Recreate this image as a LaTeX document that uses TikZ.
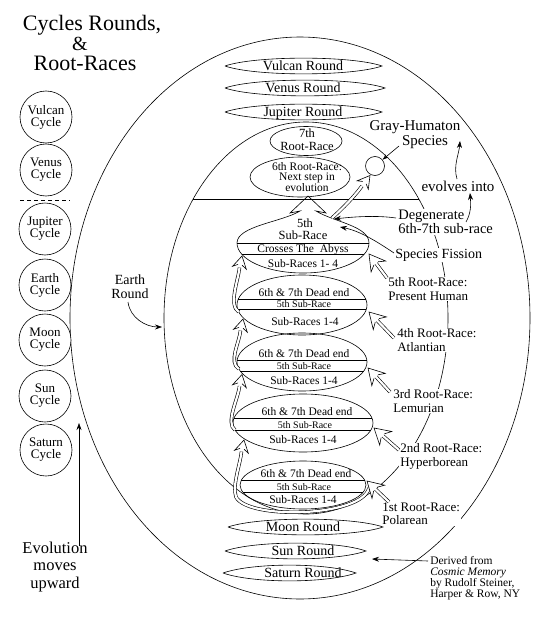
\documentclass[tikz,border=0pt]{standalone}
\usepackage{fontspec}
\setmainfont{Liberation Serif}
\usetikzlibrary{arrows.meta,calc,shapes.geometric}
\newcommand\myfs[2]{\fontsize{#1}{#2}\selectfont}
\newcommand\hhd[3]{\path let \p1=($(#1)-(#2)$), \n1={atan2(\y1,\x1)} in pic[rotate=\n1,scale=#3] at (#1) {hhead};}
\newcommand\lensn[5]{\draw (#2,#4) .. controls +(30,-10.5) and +(-30,-10.5) .. (#3,#4) .. controls +(-30,10.5) and +(30,10.5) .. (#2,#4);
  \node[rnd] (#1) at (303,#4+4.8) {#5};}
\tikzset{
  cyc/.style={circle, draw, fill=white, minimum size=52pt, inner sep=0pt, align=center, font=\myfs{13}{12}},
  ell/.style={ellipse, draw, inner sep=0pt, outer sep=0pt},
  lbl/.style={fill=white, inner sep=1pt, align=left, anchor=west},
  blk/.style={-{Stealth[length=7pt,width=5pt]}},
  dbl/.style={double=white, double distance=2.2pt},
  hhead/.pic={\draw[fill=white, line join=miter] (-9,2) -- (-12,7) -- (0,0) -- (-12,-7) -- (-9,-2);},
  rnd/.style={font=\myfs{14}{14}, inner sep=0pt, anchor=base},
  t12/.style={font=\myfs{11.5}{11}, anchor=base, inner sep=0pt},
  t10/.style={font=\myfs{10}{10}, anchor=base, inner sep=0pt},
  ttl/.style={font=\myfs{22}{24}, anchor=base, inner sep=0pt},
}
\begin{document}
\begin{tikzpicture}[x=1pt,y=-1pt,line width=0.6pt]
\useasboundingbox (0,0) rectangle (546,623);

% title
\node[ttl] (ttl1) at (92,31) {Cycles Rounds,};
\node[ttl, font=\myfs{20}{22}] (ttl2) at (80,51) {\&};
\node[ttl] (ttl3) at (85,71) {Root-Races};

% big ellipses
\node[ell, minimum width=460pt, minimum height=562pt] (outer) at (300,318) {};
\node[ell, minimum width=284pt, minimum height=392pt] (earthR) at (306,318) {};
\coordinate (hzL) at (193.2,199); \coordinate (hzR) at (418.8,199);
\draw (hzL) -- (hzR);

% cycles
\node[cyc] (vulC) at (46,117) {Vulcan\\Cycle};
\node[cyc] (venC) at (46,170) {Venus\\Cycle};
\coordinate (dashA) at (20,200.5); \coordinate (dashB) at (70,200.5);
\draw[dash pattern=on 4pt off 3pt] (dashA) -- (dashB);
\node[cyc] (jupC) at (45,229) {Jupiter\\Cycle};
\node[cyc] (earC) at (45,285) {Earth\\Cycle};
\node[cyc] (mooC) at (45,340) {Moon\\Cycle};
\node[cyc] (sunC) at (45,396) {Sun\\Cycle};
\node[cyc] (satC) at (46,450) {Saturn\\Cycle};

\node[font=\myfs{16.5}{17.5}, align=center, inner sep=0pt] (evo) at (55,567) {Evolution\\moves\\upward};
\coordinate (evS) at (79,546); \coordinate (evT) at (79,423);
\draw[blk] (evS) -- (evT);

\node[font=\myfs{14}{14}, align=center, inner sep=0pt] (erl) at (130,287) {Earth\\Round};
\coordinate (erS) at (128,302); \coordinate (erT) at (162,327);
\draw[blk] (erS) .. controls (130,318) and (146,327) .. (erT);

% rounds
\lensn{vulR}{225}{382}{66}{Vulcan Round}
\lensn{venR}{225}{385}{88}{Venus Round}
\lensn{jupR}{225}{382}{112}{Jupiter Round}
\lensn{moonR}{228}{383}{527}{Moon Round}
\lensn{sunR}{225}{366}{551}{Sun Round}
\lensn{satR}{223}{356}{573}{Saturn Round}

% 7th and 6th root-races
\node[ell, minimum width=72pt, minimum height=29pt] (r7) at (306,141) {};
\node[font=\myfs{12.5}{12.5}, align=center, inner sep=0pt] (r7t) at (307,139.5) {7th\\Root-Race};
\node[ell, minimum width=100pt, minimum height=40pt] (r6) at (300,177) {};
\node[font=\myfs{11.5}{10.8}, align=center, inner sep=0pt] (r6t) at (307,177) {6th Root-Race:\\Next step in\\evolution};

% 5th root-race
\coordinate (f5L) at (237,243); \coordinate (f5R) at (369,243); \coordinate (f5tip) at (308,196);
\draw[line join=miter] (f5L) .. controls (237,226) and (282,222) .. (300,211) -- (290,213) -- (f5tip) -- (326,213) -- (316,211)
  .. controls (334,222) and (369,226) .. (f5R) .. controls (369,259.6) and (339.5,273) .. (303,273)
  .. controls (266.5,273) and (237,259.6) .. (f5L) -- cycle;
\draw (f5L) -- (f5R);
\draw (241.6,254) -- (364.4,254);
\node[font=\myfs{12.5}{12}, anchor=base, inner sep=0pt] (s5a) at (305,227) {5th};
\node[font=\myfs{12.5}{12}, anchor=base, inner sep=0pt] (s5b) at (303,239) {Sub-Race};
\node[t12] (s5c) at (303,252) {Crosses The~~Abyss};
\node[t12] (s5d) at (303,267.5) {Sub-Races 1- 4};

% 4th
\node[ell, minimum width=130pt, minimum height=60pt] (r4) at (302,305) {};
\draw (238.3,299) -- (365.7,299); \draw (237.6,309) -- (366.4,309);
\node[t12] (r4a) at (304,296) {6th \& 7th Dead end};
\node[t10] (r4b) at (304,307.5) {5th Sub-Race};
\node[t12] (r4c) at (305,325) {Sub-Races 1-4};
% 3rd
\node[ell, minimum width=130pt, minimum height=58pt] (r3) at (302,362) {};
\draw (237.2,360) -- (366.8,360); \draw (240.2,371) -- (363.8,371);
\node[t12] (r3a) at (304,357.5) {6th \& 7th Dead end};
\node[t10] (r3b) at (304,369.5) {5th Sub-Race};
\node[t12] (r3c) at (304,384) {Sub-Races 1-4};
% 2nd
\node[ell, minimum width=140pt, minimum height=58pt] (r2) at (303,423) {};
\draw (234,418) -- (372,418); \draw (235.1,430) -- (370.9,430);
\node[t12] (r2a) at (307,415.5) {6th \& 7th Dead end};
\node[t10] (r2b) at (305,428.5) {5th Sub-Race};
\node[t12] (r2c) at (303,443.5) {Sub-Races 1-4};
% 1st
\node[ell, minimum width=126pt, minimum height=48pt] (r1) at (303,485) {};
\draw (241.4,480) -- (364.6,480); \draw (242.7,492) -- (363.3,492);
\node[t12] (r1a) at (306,477.5) {6th \& 7th Dead end};
\node[t10] (r1b) at (304,490) {5th Sub-Race};
\node[t12] (r1c) at (303,503.5) {Sub-Races 1-4};

% Gray-Humaton
\node[circle, draw, minimum size=19pt, inner sep=0pt] (ghc) at (375,166) {};
\node[font=\myfs{15}{15}, anchor=base, inner sep=0.5pt] (gh1) at (415,131) {Gray-Humaton};
\node[font=\myfs{15}{15}, anchor=base, inner sep=0.5pt] (gh2) at (425,145.5) {Species};
\node[font=\myfs{15}{15}, anchor=base, inner sep=0.5pt] (evi) at (458,191.5) {evolves into};

% right labels
\node[lbl, font=\myfs{14.5}{14}] (deg) at (397,222) {Degenerate\\6th-7th sub-race};
\node[lbl, font=\myfs{14}{14}] (sf) at (394,255) {Species Fission};
\node[lbl, font=\myfs{13}{13.5}] (rl5) at (387,289) {5th Root-Race:\\Present Human};
\node[lbl, font=\myfs{13}{13.5}] (rl4) at (396,340) {4th Root-Race:\\Atlantian};
\node[lbl, font=\myfs{13}{13.5}] (rl3) at (392,401) {3rd Root-Race:\\Lemurian};
\node[lbl, font=\myfs{13}{13.5}] (rl2) at (399,456.5) {2nd Root-Race:\\Hyperborean};
\node[lbl, font=\myfs{13}{13.5}] (rl1) at (381,514) {1st Root-Race:\\Polarean};
\node[lbl, font=\myfs{11.5}{11}] (drv) at (429,578.5) {Derived from\\\textit{Cosmic Memory}\\by Rudolf Steiner,\\Harper \& Row, NY};

% black arrows
\coordinate (ghS) at (399,146);
\draw[-{Stealth[length=6pt,width=4pt]}] (ghS) -- (ghc);
\coordinate (eA1) at (457,179); \coordinate (eA2) at (460,141);
\draw[blk] (eA1) .. controls (453,166) and (459,154) .. (eA2);
\coordinate (eB1) at (466,222); \coordinate (eB2) at (470,193);
\draw[blk] (eB1) .. controls (471,213) and (471,205) .. (eB2);
\coordinate (dgS) at (396,218); \coordinate (dgT) at (334,219);
\draw[blk] (dgS) .. controls (375,215) and (352,217) .. (dgT);
\coordinate (sfS) at (394,253); \coordinate (sfT) at (340,227);
\draw[blk] (sfS) .. controls (376,241) and (360,231) .. (sfT);
\coordinate (drS) at (428,561); \coordinate (drT) at (372,559);
\draw[blk] (drS) -- (drT);

% hollow double arrows, left spiral
\coordinate (L4s) at (238.8,312); \coordinate (L4e) at (239.5,267.5); \coordinate (L4t) at (242,256);
\draw[dbl] (L4s) .. controls (228,305) and (238.5,279.5) .. (L4e); \hhd{L4t}{L4e}{1}
\coordinate (L3s) at (238.9,369); \coordinate (L3e) at (240.5,330.5); \coordinate (L3t) at (243,319);
\draw[dbl] (L3s) .. controls (228,362) and (239.5,342.5) .. (L3e); \hhd{L3t}{L3e}{1}
\coordinate (L2s) at (235,430); \coordinate (L2e) at (239.5,386); \coordinate (L2t) at (242,374.5);
\draw[dbl] (L2s) .. controls (225,423) and (238.5,398) .. (L2e); \hhd{L2t}{L2e}{1}
\coordinate (L1s) at (369,488); \coordinate (L1e) at (241.5,451.5); \coordinate (L1t) at (244,440);
\draw[dbl] (L1s) .. controls (362,517) and (248,520) .. (236,497) .. controls (232,485) and (240.5,463.5) .. (L1e); \hhd{L1t}{L1e}{1}

% to Gray-Humaton
\coordinate (G1s) at (332,218); \coordinate (G1e) at (362,186); \coordinate (G1t) at (370,175.5);
\draw[dbl] (G1s) .. controls (343,208) and (354,197) .. (G1e); \hhd{G1t}{G1e}{1}

% right hollow arrows
\coordinate (R5t) at (369,254); \coordinate (R5s) at (387,278); \coordinate (R5e) at ($(R5t)!11pt!(R5s)$);
\draw[dbl] (R5s) -- (R5e); \hhd{R5t}{R5s}{1.3}
\coordinate (R4t) at (369,312); \coordinate (R4s) at (394,338); \coordinate (R4e) at ($(R4t)!11pt!(R4s)$);
\draw[dbl] (R4s) -- (R4e); \hhd{R4t}{R4s}{1.3}
\coordinate (R3t) at (368,368); \coordinate (R3s) at (390,392); \coordinate (R3e) at ($(R3t)!11pt!(R3s)$);
\draw[dbl] (R3s) -- (R3e); \hhd{R3t}{R3s}{1.3}
\coordinate (R2t) at (374,428); \coordinate (R2s) at (399,450); \coordinate (R2e) at ($(R2t)!11pt!(R2s)$);
\draw[dbl] (R2s) -- (R2e); \hhd{R2t}{R2s}{1.3}
\coordinate (R1t) at (367,481); \coordinate (R1s) at (389,502); \coordinate (R1e) at ($(R1t)!11pt!(R1s)$);
\draw[dbl] (R1s) -- (R1e); \hhd{R1t}{R1s}{1.3}
\end{tikzpicture}
\end{document}
